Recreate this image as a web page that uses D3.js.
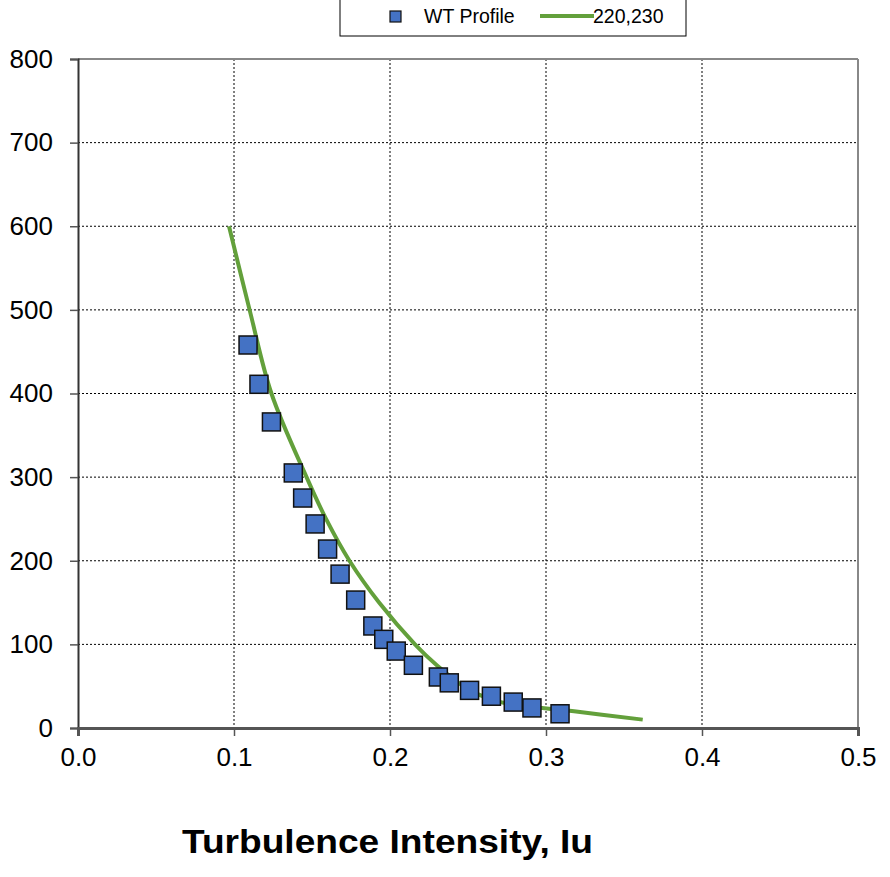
<!DOCTYPE html>
<html>
<head>
<meta charset="utf-8">
<script src="https://cdn.jsdelivr.net/npm/d3@7"></script>
<style>
  body { margin: 0; background: #fff; }
  svg { font-family: "Liberation Sans", Arial, sans-serif; }
</style>
</head>
<body>
<div id="chart"></div>
<script>
// wind tunnel profile points (Iu, height)
const wtIu = [0.109, 0.116, 0.124, 0.138, 0.144, 0.152, 0.160, 0.168, 0.178, 0.189,
              0.196, 0.204, 0.215, 0.231, 0.238, 0.251, 0.265, 0.279, 0.291, 0.309];
const wtZ  = [458, 411, 366, 305, 275, 244, 214, 184, 153, 122,
              106, 92, 75, 61, 54, 45, 38, 31, 24, 17];

// target curve "220,230"
const curveZ  = [600, 500, 400, 300, 250, 200, 150, 100, 75, 50, 40, 30, 20, 10];
const curveIu = [0.0968, 0.110, 0.124, 0.1465, 0.159, 0.174, 0.193, 0.216, 0.230, 0.247, 0.257, 0.273, 0.318, 0.362];

const xTicks = [0, 0.1, 0.2, 0.3, 0.4, 0.5];
const yTicks = [0, 100, 200, 300, 400, 500, 600, 700, 800];

const W = 890, H = 877;
const plot = { left: 78, right: 858, top: 59, bottom: 728 };

const svg = d3.select("#chart").append("svg")
  .attr("width", W).attr("height", H);

const x = d3.scaleLinear().domain([0, 0.5]).range([plot.left, plot.right]);
const y = d3.scaleLinear().domain([0, 800]).range([plot.bottom, plot.top]);

// gridlines
svg.append("g").selectAll("line")
  .data(xTicks.slice(1, -1))
  .enter().append("line")
  .attr("x1", d => x(d)).attr("x2", d => x(d))
  .attr("y1", plot.top).attr("y2", plot.bottom)
  .attr("stroke", "#000").attr("stroke-width", 1)
  .attr("stroke-dasharray", "2,2");

svg.append("g").selectAll("line")
  .data(yTicks.slice(1, -1))
  .enter().append("line")
  .attr("x1", plot.left).attr("x2", plot.right)
  .attr("y1", d => y(d)).attr("y2", d => y(d))
  .attr("stroke", "#000").attr("stroke-width", 1)
  .attr("stroke-dasharray", "2,2");

// frame top / right
svg.append("line").attr("x1", plot.left).attr("x2", plot.right).attr("y1", plot.top).attr("y2", plot.top)
  .attr("stroke", "#888").attr("stroke-width", 2);
svg.append("line").attr("x1", plot.right).attr("x2", plot.right).attr("y1", plot.top).attr("y2", plot.bottom)
  .attr("stroke", "#888").attr("stroke-width", 2);

// axes
const yAxis = svg.append("g")
  .attr("transform", `translate(${plot.left},0)`)
  .call(d3.axisLeft(y).tickValues(yTicks).tickSize(8).tickPadding(17).tickFormat(d3.format("d")));
yAxis.select(".domain").attr("stroke", "#333").attr("stroke-width", 2);
yAxis.selectAll(".tick line").attr("stroke", "#555").attr("stroke-width", 1.5);
yAxis.selectAll("text").attr("font-size", 26).attr("fill", "#000")
  .attr("font-family", "Liberation Sans, Arial, sans-serif");

const xAxis = svg.append("g")
  .attr("transform", `translate(0,${plot.bottom})`)
  .call(d3.axisBottom(x).tickValues(xTicks).tickSize(8).tickPadding(12).tickFormat(d3.format(".1f")));
xAxis.select(".domain").attr("stroke", "#555").attr("stroke-width", 3);
xAxis.selectAll(".tick line").attr("stroke", "#555").attr("stroke-width", 1.5);
xAxis.selectAll("text").attr("font-size", 26).attr("fill", "#000")
  .attr("font-family", "Liberation Sans, Arial, sans-serif");

// curve
const curveData = curveZ.map((z, i) => ({ iu: curveIu[i], z }));
svg.append("path")
  .datum(curveData)
  .attr("fill", "none")
  .attr("stroke", "#63a03b")
  .attr("stroke-width", 4)
  .attr("d", d3.line().x(d => x(d.iu)).y(d => y(d.z)).curve(d3.curveCatmullRom));

// markers
const wtData = wtZ.map((z, i) => ({ iu: wtIu[i], z }));
const s = 18;
svg.append("g").selectAll("rect")
  .data(wtData)
  .enter().append("rect")
  .attr("x", d => x(d.iu) - s / 2)
  .attr("y", d => y(d.z) - s / 2)
  .attr("width", s).attr("height", s)
  .attr("fill", "#4472c4")
  .attr("stroke", "#111").attr("stroke-width", 1.5);

// legend
const lg = svg.append("g");
lg.append("rect").attr("x", 340).attr("y", -2).attr("width", 346).attr("height", 38)
  .attr("fill", "#fff").attr("stroke", "#000").attr("stroke-width", 1);
lg.append("rect").attr("x", 390).attr("y", 11).attr("width", 11).attr("height", 11)
  .attr("fill", "#4472c4").attr("stroke", "#111").attr("stroke-width", 1.2);
lg.append("text").attr("x", 424).attr("y", 23).attr("font-size", 19.5).text("WT Profile");
lg.append("line").attr("x1", 540).attr("x2", 594).attr("y1", 16).attr("y2", 16)
  .attr("stroke", "#63a03b").attr("stroke-width", 4);
lg.append("text").attr("x", 593).attr("y", 23).attr("font-size", 19.5).text("220,230");

// axis title
svg.append("text")
  .attr("x", 182).attr("y", 853)
  .attr("font-size", 33).attr("font-weight", "bold")
  .attr("textLength", 411).attr("lengthAdjust", "spacingAndGlyphs")
  .text("Turbulence Intensity, Iu");
</script>
</body>
</html>
